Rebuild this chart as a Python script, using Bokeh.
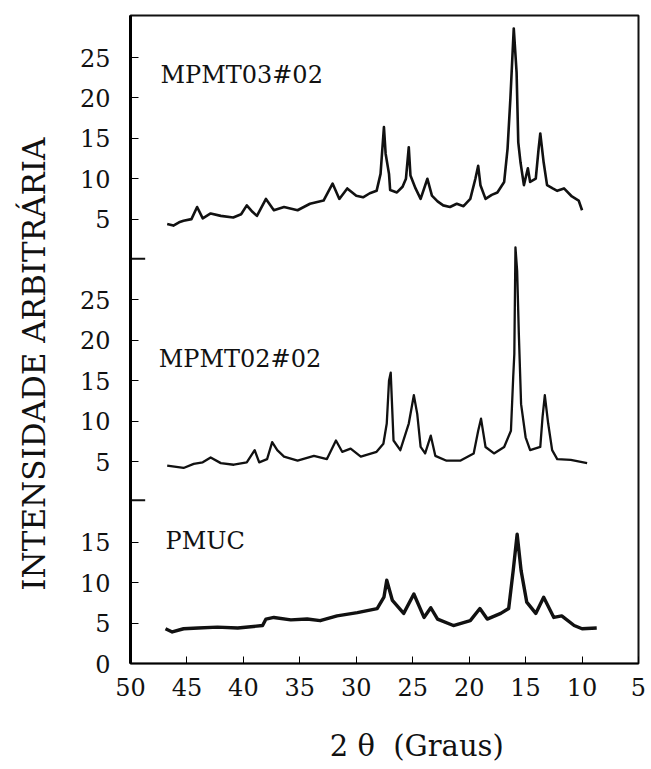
from bokeh.plotting import figure
from bokeh.models import FixedTicker, Label
from bokeh.embed import file_html
from bokeh.resources import INLINE
import numpy as np

# ---------------- data (2theta in degrees, arbitrary intensity) ----------------
top_name = "MPMT03#02"
top_theta = [46.75, 46.2, 45.7, 45.3, 44.6, 44.1, 43.6, 42.9, 42.0, 40.9, 40.2, 39.7, 39.2, 38.8,
             38.0, 37.3, 36.4, 35.2, 34.1, 32.9, 32.1, 31.5, 30.8, 30.0, 29.4, 28.8, 28.2, 27.85,
             27.55, 27.4, 27.1, 27.0, 26.4, 25.9, 25.6, 25.35, 25.2, 24.75, 24.3, 23.7, 23.3, 22.8,
             22.3, 21.7, 21.1, 20.5, 19.9, 19.45, 19.2, 19.0, 18.55, 18.0, 17.5, 16.9, 16.6, 16.35,
             16.05, 15.8, 15.65, 15.45, 15.15, 14.8, 14.6, 14.1, 13.85, 13.7, 13.4, 13.1, 12.6, 12.2,
             11.6, 10.9, 10.3, 10.0]
top_int = [4.4, 4.2, 4.6, 4.8, 5.0, 6.5, 5.1, 5.7, 5.4, 5.2, 5.6, 6.7, 5.9, 5.4,
           7.5, 6.1, 6.5, 6.1, 6.9, 7.3, 9.4, 7.5, 8.8, 7.9, 7.7, 8.2, 8.5, 10.6,
           16.4, 13.1, 10.6, 8.6, 8.3, 9.0, 10.0, 13.9, 10.4, 8.8, 7.5, 10.0, 7.9, 7.2,
           6.7, 6.5, 6.9, 6.6, 7.5, 10.0, 11.6, 9.2, 7.5, 8.0, 8.3, 9.6, 13.7, 19.9,
           28.6, 23.2, 14.5, 12.0, 9.2, 11.3, 9.6, 10.0, 13.7, 15.6, 12.0, 9.2, 8.8, 8.5,
           8.8, 7.8, 7.3, 6.1]

mid_name = "MPMT02#02"
mid_theta = [46.75, 45.3, 44.4, 43.6, 42.9, 42.0, 40.85, 39.7, 39.0, 38.6, 37.9, 37.45, 37.0, 36.4,
             35.2, 33.75, 32.6, 31.8, 31.25, 30.5, 29.6, 28.2, 27.6, 27.3, 27.1, 26.95, 26.7, 26.1,
             25.35, 24.9, 24.6, 24.3, 23.9, 23.4, 23.0, 22.0, 20.8, 19.6, 19.2, 18.95, 18.55, 17.8,
             16.9, 16.3, 16.1, 16.0, 15.9, 15.75, 15.6, 15.4, 15.0, 14.6, 13.7, 13.5, 13.3, 13.0,
             12.65, 12.2, 11.0, 9.55]
mid_int = [4.5, 4.2, 4.7, 4.9, 5.5, 4.8, 4.6, 4.9, 6.4, 4.9, 5.3, 7.4, 6.4, 5.6,
           5.1, 5.7, 5.3, 7.6, 6.2, 6.6, 5.6, 6.2, 7.2, 9.7, 15.0, 16.0, 7.6, 6.4,
           9.7, 13.2, 10.9, 6.8, 6.0, 8.2, 5.7, 5.1, 5.1, 6.0, 8.8, 10.3, 6.8, 6.0,
           6.8, 8.8, 15.4, 18.3, 31.5, 28.6, 20.8, 12.1, 8.0, 6.4, 6.8, 10.5, 13.2, 9.7,
           6.4, 5.3, 5.2, 4.8]

bot_name = "PMUC"
bot_theta = [46.9, 46.3, 45.3, 44.0, 42.3, 40.5, 38.3, 38.0, 37.3, 35.8, 34.35, 33.2, 31.7, 29.9,
             28.15, 27.55, 27.3, 26.8, 25.8, 24.9, 24.0, 23.4, 22.8, 21.4, 19.9, 19.05, 18.4, 17.2,
             16.5, 16.1, 15.75, 15.4, 14.9, 14.1, 13.4, 12.5, 11.8, 10.7, 10.0, 8.7]
bot_int = [4.3, 3.9, 4.3, 4.4, 4.5, 4.4, 4.7, 5.5, 5.7, 5.4, 5.5, 5.3, 5.9, 6.3,
           6.8, 8.2, 10.3, 7.8, 6.2, 8.6, 5.7, 6.9, 5.5, 4.7, 5.3, 6.8, 5.5, 6.2,
           6.8, 11.5, 16.0, 11.5, 7.6, 6.2, 8.2, 5.7, 5.9, 4.7, 4.3, 4.4]

x_ticks = [50, 45, 40, 35, 30, 25, 20, 15, 10, 5]
bot_ticks = [0, 5, 10, 15]
mid_ticks = [5, 10, 15, 20, 25]
top_ticks = [5, 10, 15, 20, 25]

x_title = "2\u00a0θ\u00a0\u00a0(Graus)"
y_title = "INTENSIDADE ARBITRÁRIA"

# ---------------- layout constants ----------------
OFF_BOT, OFF_MID, OFF_TOP = 0.0, 20.0, 50.0
FONT = "DejaVu Serif"
NB = "\u00a0"

p = figure(width=651, height=769, x_range=(50, 5), y_range=(0, 80.2),
           output_backend="svg", toolbar_location=None,
           min_border_left=130, min_border_right=13, min_border_top=15, min_border_bottom=106)
p.background_fill_color = "white"
p.border_fill_color = "white"
p.xgrid.visible = False
p.ygrid.visible = False
p.outline_line_color = "#111111"
p.outline_line_width = 2

for th, it, off, lw in ((top_theta, top_int, OFF_TOP, 2.6),
                        (mid_theta, mid_int, OFF_MID, 2.3),
                        (bot_theta, bot_int, OFF_BOT, 3.4)):
    p.line(th, np.asarray(it) + off, line_color="#111111", line_width=lw, line_join="round")

# x axis
p.xaxis.ticker = FixedTicker(ticks=x_ticks)
p.xaxis.major_tick_in = 7
p.xaxis.major_tick_out = 0
p.xaxis.minor_tick_line_color = None
p.xaxis.axis_line_width = 1.5
p.xaxis.major_label_text_font = FONT
p.xaxis.major_label_text_font_size = "24px"
p.xaxis.major_label_text_color = "#111111"
p.xaxis.major_label_standoff = 14
p.xaxis.axis_label = NB * 7 + x_title          # padding shifts the centred title right
p.xaxis.axis_label_text_font = FONT
p.xaxis.axis_label_text_font_style = "normal"
p.xaxis.axis_label_text_font_size = "29px"
p.xaxis.axis_label_text_color = "#111111"
p.xaxis.axis_label_standoff = 30

# y axis (three stacked panels)
ytick_pos = [OFF_BOT + v for v in bot_ticks] + [OFF_MID + v for v in mid_ticks] + [OFF_TOP + v for v in top_ticks]
ytick_lab = [str(v) for v in bot_ticks] + [str(v) for v in mid_ticks] + [str(v) for v in top_ticks]
p.yaxis.ticker = FixedTicker(ticks=ytick_pos)
p.yaxis.major_label_overrides = {pos: lab for pos, lab in zip(ytick_pos, ytick_lab)}
p.yaxis.major_tick_in = 8
p.yaxis.major_tick_out = 0
p.yaxis.minor_tick_line_color = None
p.yaxis.axis_line_width = 3
p.yaxis.major_label_text_font = FONT
p.yaxis.major_label_text_font_size = "24px"
p.yaxis.major_label_text_color = "#111111"
p.yaxis.major_label_standoff = 20
p.yaxis.axis_label = y_title + NB * 5           # padding shifts the centred title down
p.yaxis.axis_label_text_font = FONT
p.yaxis.axis_label_text_font_style = "normal"
p.yaxis.axis_label_text_font_size = "31px"
p.yaxis.axis_label_text_color = "#111111"
p.yaxis.axis_label_standoff = 25

# panel break marks on the left axis
for yb in (OFF_MID + 0.2, OFF_TOP + 0.1):
    p.segment(x0=[50], y0=[yb], x1=[48.7], y1=[yb], line_color="#111111", line_width=2)

# sample names
p.add_layout(Label(x=47.35, y=OFF_TOP + 22.8, text=top_name, text_font=FONT, text_font_size="24px",
                   text_baseline="middle", text_align="left", text_color="#111111"))
p.add_layout(Label(x=47.5, y=OFF_MID + 17.7, text=mid_name, text_font=FONT, text_font_size="24px",
                   text_baseline="middle", text_align="left", text_color="#111111"))
p.add_layout(Label(x=46.9, y=OFF_BOT + 15.2, text=bot_name, text_font=FONT, text_font_size="24px",
                   text_baseline="middle", text_align="left", text_color="#111111"))

open("out.html", "w").write(file_html(p, INLINE))
